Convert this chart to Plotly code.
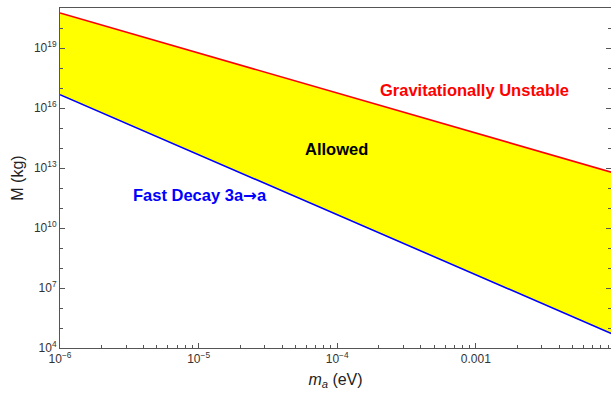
import plotly.graph_objects as go

# Data (log-log straight lines)
mass_ev = [1e-6, 1e-2]
m_unstable = [5.6e20, 5.6e12]     # Gravitationally unstable boundary (red)
m_decay = [4.6e16, 4.6e4]         # Fast decay 3a->a boundary (blue)

y_major = [1e4, 1e7, 1e10, 1e13, 1e16, 1e19]
y_major_text = ["10<sup>4</sup>", "10<sup>7</sup>", "10<sup>10</sup>", "10<sup>13</sup>",
                "10<sup>16</sup>", "10<sup>19</sup>"]
y_minor = [1e5, 1e6, 1e8, 1e9, 1e11, 1e12, 1e14, 1e15, 1e17, 1e18, 1e20]
x_major = [1e-6, 1e-5, 1e-4, 1e-3]
x_major_text = ["10<sup>−6</sup>", "10<sup>−5</sup>", "10<sup>−4</sup>", "0.001"]
x_minor = [k * 10.0 ** e for e in (-6, -5, -4, -3) for k in range(2, 10)]

font = "Liberation Sans, Arial, Helvetica, sans-serif"

fig = go.Figure()
fig.add_trace(go.Scatter(x=mass_ev, y=m_decay, mode="lines", line=dict(width=0, color="blue"),
                         showlegend=False, hoverinfo="skip"))
fig.add_trace(go.Scatter(x=mass_ev, y=m_unstable, mode="lines", line=dict(width=0, color="red"),
                         fill="tonexty", fillcolor="#ffff00", showlegend=False, hoverinfo="skip"))
fig.add_trace(go.Scatter(x=mass_ev, y=m_decay, mode="lines", line=dict(width=1.6, color="#0000ff"),
                         showlegend=False))
fig.add_trace(go.Scatter(x=mass_ev, y=m_unstable, mode="lines", line=dict(width=1.6, color="#ff0000"),
                         showlegend=False))

fig.add_annotation(x=-3.009, y=16.915, xref="x", yref="y", text="<b>Gravitationally Unstable</b>",
                   showarrow=False, font=dict(family=font, size=16.5, color="#ff0000"))
fig.add_annotation(x=-4.005, y=13.965, xref="x", yref="y", text="<b>Allowed</b>",
                   showarrow=False, font=dict(family=font, size=16.5, color="#000000"))
fig.add_annotation(x=-4.99, y=11.615, xref="x", yref="y",
                   text="<b>Fast Decay 3a<span style=\"font-family:'DejaVu Sans'\">→</span>a</b>",
                   showarrow=False, font=dict(family=font, size=16.5, color="#0000ff"))

fig.update_xaxes(type="log", range=[-6, -2.0245],
                 tickvals=x_major, ticktext=x_major_text,
                 ticks="inside", ticklen=5, tickcolor="#555", tickwidth=1,
                 minor=dict(tickvals=x_minor, ticks="inside", ticklen=3, tickcolor="#555"),
                 showline=True, linecolor="#555", linewidth=1, mirror=True,
                 showgrid=False, zeroline=False,
                 tickfont=dict(family=font, size=12, color="#333"),
                 title=dict(text="<i>m</i><sub><i>a</i></sub> (eV)", standoff=8,
                            font=dict(family=font, size=16, color="#222")))
fig.update_yaxes(type="log", range=[4, 21],
                 tickvals=y_major, ticktext=y_major_text,
                 ticks="inside", ticklen=5, tickcolor="#555", tickwidth=1,
                 minor=dict(tickvals=y_minor, ticks="inside", ticklen=3, tickcolor="#555"),
                 showline=True, linecolor="#555", linewidth=1, mirror="ticks",
                 showgrid=False, zeroline=False,
                 tickfont=dict(family=font, size=12, color="#333"),
                 title=dict(text="M (kg)", standoff=6,
                            font=dict(family=font, size=16, color="#222")))

fig.update_layout(width=611, height=395, margin=dict(l=60, r=0, t=8, b=47),
                  plot_bgcolor="white", paper_bgcolor="white")

fig.write_html("out.html")
